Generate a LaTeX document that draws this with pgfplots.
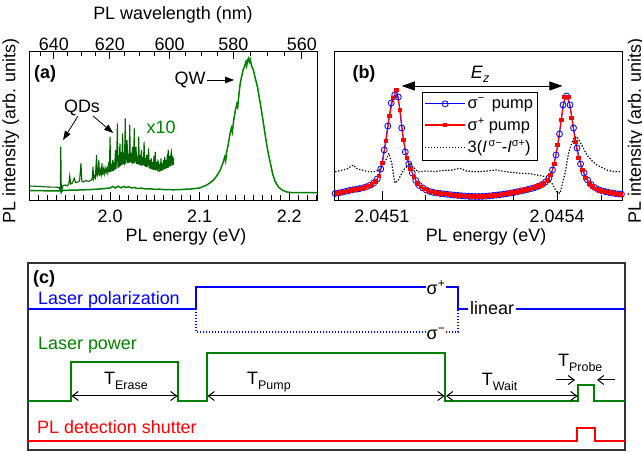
\documentclass[border=0pt]{standalone}
\usepackage{fontspec}
\setmainfont{Liberation Sans}
\usepackage{pgfplots}
\pgfplotsset{compat=1.18}
\usetikzlibrary{arrows.meta}
\definecolor{pgreen}{RGB}{0,128,0}
\definecolor{dgreen}{RGB}{0,98,0}
\definecolor{pblue}{RGB}{0,0,255}
\definecolor{pred}{RGB}{255,0,0}
\newcommand{\F}{\fontsize{18}{21}\selectfont}
\newcommand{\Sub}[1]{\raisebox{-5bp}{\fontsize{12.5}{14}\selectfont #1}}
\newcommand{\Sup}[1]{\raisebox{7bp}{\fontsize{12}{14}\selectfont #1}}
\newcommand{\LSup}[1]{\raisebox{6.5bp}{\fontsize{11}{13}\selectfont #1}}

\begin{document}
\begin{tikzpicture}[x=1bp,y=1bp]
\useasboundingbox (0,0) rectangle (642,452);
\pgfplotsset{every axis/.append style={font=\F, tick label style={font=\F},
  axis line style={line width=0.8bp}, tick style={line width=0.8bp, black}}}

% ---------------- panel (a) ----------------
\begin{axis}[at={(29bp,252bp)}, anchor=south west, scale only axis, width=288bp, height=149bp,
  xmin=1.9095, xmax=2.231, ymin=0, ymax=149,
  xtick={2.0,2.1,2.2}, xticklabels={2.0,2.1,2.2},
  minor xtick={1.92,1.93,1.94,1.95,1.96,1.97,1.98,1.99,2.01,2.02,2.03,2.04,2.05,2.06,2.07,2.08,2.09,2.11,2.12,2.13,2.14,2.15,2.16,2.17,2.18,2.19,2.21,2.22,2.23},
  xtick pos=left, ytick=\empty, tick align=inside,
  major tick length=8bp, minor tick length=5bp,
  xticklabel style={yshift=-6bp},
  xlabel={PL energy (eV)}, ylabel={PL intensity (arb. units)},
  every axis x label/.style={at={(axis description cs:0.545,-0.248)}, anchor=center},
  every axis y label/.style={at={(axis description cs:-0.063,0.463)}, rotate=90, anchor=center},
]
\addplot[pgreen, line width=1.5bp] coordinates {
(1.9100,9.5) (1.9200,9.3) (1.9300,9.2) (1.9400,9.2) (1.9440,9.0) (1.9450,11.5) (1.9455,7.5) (1.9470,9.5)
(1.9550,9.8) (1.9650,10.0) (1.9750,10.3) (1.9850,10.8) (1.9950,11.5) (2.0000,12.0) (2.0030,13.5)
(2.0060,12.0) (2.0090,13.8) (2.0120,12.2) (2.0150,13.5) (2.0180,12.5) (2.0210,13.2) (2.0240,12.0)
(2.0270,12.6) (2.0300,11.5) (2.0350,11.8) (2.0400,11.0) (2.0450,11.2) (2.0500,10.6) (2.0550,10.8)
(2.0600,10.4) (2.0650,10.5) (2.0700,10.2) (2.0750,10.3) (2.0800,10.5) (2.0850,10.8) (2.0900,11.0)
(2.0950,11.5) (2.1000,12.0) (2.1040,13.5) (2.1080,15.0) (2.1120,17.5) (2.1155,20.0) (2.1190,24.0)
(2.1230,30.0) (2.1260,37.0) (2.1280,43.0) (2.1290,39.0) (2.1300,47.0) (2.1320,56.0) (2.1340,66.7)
(2.1355,72.0) (2.1365,68.0) (2.1380,80.0) (2.1400,90.0) (2.1415,96.0) (2.1425,93.0) (2.1440,107.0)
(2.1453,116.7) (2.1470,124.0) (2.1485,130.0) (2.1500,133.3) (2.1515,138.0) (2.1525,134.0)
(2.1535,140.0) (2.1545,141.7) (2.1555,138.0) (2.1565,140.5) (2.1580,134.0) (2.1600,130.0)
(2.1620,122.0) (2.1645,113.3) (2.1670,100.0) (2.1695,86.7) (2.1720,72.0) (2.1740,60.0)
(2.1765,47.0) (2.1790,36.7) (2.1815,26.0) (2.1844,18.3) (2.1880,13.0) (2.1920,10.0) (2.1960,8.3)
(2.2010,7.5) (2.2100,7.3) (2.2200,7.3) (2.2310,7.3)};
\addplot[dgreen, line width=1.1bp] coordinates {
(1.9100,14.0) (1.9150,13.8) (1.9200,13.6) (1.9250,13.3) (1.9300,13.0) (1.9350,12.9) (1.9400,12.8)
(1.9430,12.5) (1.9445,10.0) (1.9450,53.3) (1.9455,12.0) (1.9465,10.5) (1.9475,14.5) (1.9500,15.0)
(1.9520,14.0) (1.9540,16.0) (1.9550,24.0) (1.9560,16.0) (1.9580,17.0) (1.9600,21.7) (1.9615,17.5)
(1.9640,18.0) (1.9660,19.0) (1.9675,36.7) (1.9685,18.5) (1.9700,18.0) (1.9730,19.5) (1.9760,18.5)
(1.9790,20) (1.9800,21) (1.9810,33) (1.9815,21) (1.9825,24) (1.9835,22) (1.9850,45) (1.9855,23)
(1.9865,28) (1.9875,40) (1.9880,24) (1.9890,30) (1.9900,25) (1.9910,36.7) (1.9915,25) (1.9925,31)
(1.9935,26) (1.9945,32) (1.9955,27) (1.9965,31.7) (1.9975,27) (1.9985,38) (1.9992,28) (2.0000,63.3)
(2.0006,28) (2.0014,36) (2.0020,29) (2.0030,40) (2.0036,29) (2.0044,38) (2.0050,30) (2.0060,50)
(2.0066,31) (2.0074,42) (2.0082,76.7) (2.0088,32) (2.0096,45) (2.0102,33) (2.0110,56.7) (2.0116,34)
(2.0124,48) (2.0130,35) (2.0140,66.7) (2.0146,36) (2.0154,47) (2.0160,35) (2.0170,81.7) (2.0176,36)
(2.0184,50) (2.0190,60) (2.0196,37) (2.0204,46) (2.0212,37) (2.0220,75) (2.0226,38) (2.0234,47)
(2.0242,37) (2.0250,53) (2.0256,36) (2.0264,45) (2.0270,71.7) (2.0276,37) (2.0284,46) (2.0290,53)
(2.0296,36) (2.0304,44) (2.0312,36) (2.0320,63.3) (2.0326,35) (2.0334,45) (2.0342,35) (2.0350,50)
(2.0356,34) (2.0364,43) (2.0372,35) (2.0380,58.3) (2.0386,34) (2.0394,42) (2.0402,33) (2.0410,45)
(2.0416,33) (2.0424,41) (2.0430,51.7) (2.0436,32) (2.0444,40) (2.0452,31) (2.0460,41.7) (2.0466,31)
(2.0474,38) (2.0482,30) (2.0490,44) (2.0496,30) (2.0504,48) (2.0510,30) (2.0518,38) (2.0526,29)
(2.0534,39) (2.0540,38) (2.0546,28) (2.0554,36) (2.0562,29) (2.0568,41.7) (2.0574,29) (2.0582,37)
(2.0590,30) (2.0598,40) (2.0604,31) (2.0610,43) (2.0616,31) (2.0624,40) (2.0632,32) (2.0640,46)
(2.0646,32) (2.0650,50) (2.0656,33) (2.0664,44) (2.0672,34) (2.0680,46) (2.0685,48) (2.0690,34)
(2.0698,44) (2.0704,35) (2.0710,42)};
\node at (axis cs:1.9274,126.5) {\textbf{(a)}};
\node at (axis cs:2.0894,120) {QW};
\draw[-{Triangle[length=9bp,width=6.5bp]}, line width=0.8bp] (axis cs:2.1084,120) -- (axis cs:2.1385,120);
\node at (axis cs:1.9687,92) {QDs};
\draw[-{Triangle[length=9bp,width=6.5bp]}, line width=0.8bp] (axis cs:1.9642,84) -- (axis cs:1.9475,60);
\draw[-{Triangle[length=9bp,width=6.5bp]}, line width=0.8bp] (axis cs:1.9810,84) -- (axis cs:2.0034,67);
\node[text=pgreen] at (axis cs:2.057,73) {x10};
\end{axis}

% top wavelength axis of (a)
\begin{axis}[at={(29bp,252bp)}, anchor=south west, scale only axis, width=288bp, height=149bp,
  xmin=1.9095, xmax=2.231, ymin=0, ymax=149,
  axis x line*=top, axis y line=none, tick align=inside,
  xtick={1.93725,1.99974,2.06640,2.13766,2.21400}, xticklabels={640,620,600,580,560},
  minor xtick={1.92223,1.95250,1.96800,1.98374,2.01600,2.03252,2.04933,2.08377,2.10142,2.11938,2.15625,2.17516,2.19441},
  major tick length=8bp, minor tick length=5bp,
  xticklabel style={yshift=-3bp},
  xlabel={PL wavelength (nm)},
  every axis x label/.style={at={(axis description cs:0.5,1.242)}, anchor=center},
]
\addplot[draw=none] coordinates {(2.0,10)};
\end{axis}

% ---------------- panel (b) ----------------
\begin{axis}[at={(334bp,252bp)}, anchor=south west, scale only axis, width=288bp, height=149bp,
  xmin=0.18, xmax=5.11, ymin=0, ymax=149,
  xtick={1,4}, xticklabels={2.0451,2.0454},
  minor xtick={0.25,1.75,2.5,3.25,4.75},
  xtick pos=left, ytick=\empty, tick align=inside,
  major tick length=9bp, minor tick length=5bp,
  xticklabel style={yshift=-6bp},
  xlabel={PL energy (eV)}, ylabel={PL intensity (arb. units)},
  every axis x label/.style={at={(axis description cs:0.528,-0.248)}, anchor=center},
  every axis y label/.style={at={(axis description cs:1.049,0.463)}, rotate=90, anchor=center},
  legend style={at={(axis description cs:0.306,0.725)}, anchor=north west,
    font=\fontsize{16.5}{19}\selectfont, draw=black, line width=0.8bp,
    row sep=4bp, inner ysep=3.5bp, inner xsep=2bp},
  legend cell align=left,
  legend image code/.code={\draw[mark repeat=2,mark phase=2,#1] plot coordinates {(0bp,0bp) (20bp,0bp) (40bp,0bp)};},
]
\addplot[pblue, line width=0.9bp, mark=o, mark size=3bp, mark options={line width=0.8bp}] coordinates {
(0.20,6.5) (0.26,7.0) (0.32,7.8) (0.38,8.6) (0.44,9.5) (0.50,10.2) (0.56,10.8) (0.62,11.4) (0.68,12.2)
(0.74,13.3) (0.80,14.8) (0.86,17.0) (0.92,21.0) (0.98,31.0) (1.04,50.0) (1.10,74.0) (1.16,97.0)
(1.22,105.0) (1.28,103.0) (1.34,72.0) (1.40,48.0) (1.46,36.0) (1.52,27.0) (1.58,19.5) (1.64,14.5)
(1.70,12.0) (1.76,10.0) (1.82,8.5) (1.88,7.6) (1.94,7.0) (2.00,6.5) (2.06,6.1) (2.12,5.7) (2.18,5.3)
(2.24,4.9) (2.30,4.6) (2.36,4.3) (2.42,4.0) (2.48,3.8) (2.54,3.6) (2.60,3.5) (2.66,3.5) (2.72,3.6)
(2.78,3.8) (2.84,4.1) (2.90,4.5) (2.96,4.9) (3.02,5.3) (3.08,5.8) (3.14,6.3) (3.20,6.9) (3.26,7.5)
(3.32,8.2) (3.38,9.0) (3.44,9.8) (3.50,10.6) (3.56,11.5) (3.62,12.5) (3.68,13.8) (3.74,15.5)
(3.80,18.0) (3.86,22.0) (3.92,30.0) (3.98,45.0) (4.04,66.0) (4.10,95.0) (4.16,104.0) (4.22,95.0)
(4.28,72.0) (4.34,52.0) (4.40,36.0) (4.46,27.0) (4.52,20.0) (4.58,15.5) (4.64,12.5) (4.70,10.5)
(4.76,9.3) (4.82,8.4) (4.88,7.6) (4.94,7.0) (5.00,6.4) (5.06,6.0) (5.10,5.8)};
\addlegendentry{σ\LSup{−}\hspace{3bp} pump}
\addplot[pred, line width=1.1bp, mark=square*, mark size=1.8bp] coordinates {
(0.23,6.3) (0.29,7.2) (0.35,8.0) (0.41,8.9) (0.47,9.8) (0.53,10.4) (0.59,11.0) (0.65,11.8) (0.71,12.7)
(0.77,14.0) (0.83,15.8) (0.89,18.5) (0.95,24.0) (1.01,37.0) (1.07,59.0) (1.13,84.0) (1.19,102.0)
(1.25,110.0) (1.31,90.0) (1.37,60.0) (1.43,42.0) (1.49,31.0) (1.55,23.0) (1.61,16.5) (1.67,13.0)
(1.73,11.0) (1.79,9.2) (1.85,8.0) (1.91,7.3) (1.97,6.7) (2.03,6.3) (2.09,5.9) (2.15,5.5) (2.21,5.1)
(2.27,4.7) (2.33,4.4) (2.39,4.1) (2.45,3.9) (2.51,3.7) (2.57,3.5) (2.63,3.5) (2.69,3.5) (2.75,3.7)
(2.81,3.9) (2.87,4.3) (2.93,4.7) (2.99,5.1) (3.05,5.5) (3.11,6.0) (3.17,6.6) (3.23,7.2) (3.29,7.8)
(3.35,8.6) (3.41,9.4) (3.47,10.2) (3.53,11.0) (3.59,12.0) (3.65,13.2) (3.71,14.6) (3.77,16.8)
(3.83,19.8) (3.89,25.0) (3.95,36.0) (4.01,55.0) (4.07,80.0) (4.13,103.0) (4.19,103.0) (4.25,82.0)
(4.31,58.0) (4.37,42.0) (4.43,30.0) (4.49,22.0) (4.55,16.8) (4.61,13.2) (4.67,11.0) (4.73,9.7)
(4.79,8.7) (4.85,7.9) (4.91,7.2) (4.97,6.6) (5.03,6.1) (5.09,5.8)};
\addlegendentry{σ\LSup{+} pump}
\addplot[black, line width=1.2bp, dash pattern=on 1.3bp off 1.7bp] coordinates {
(0.20,28.3) (0.30,29.5) (0.40,31) (0.51,35) (0.58,31) (0.66,30) (0.75,28.5) (0.85,28) (0.96,30)
(1.05,38) (1.12,46.7) (1.17,36) (1.22,17) (1.28,20) (1.37,30) (1.48,36.7) (1.53,33.3) (1.62,28)
(1.75,29) (1.90,28.5) (2.05,29.5) (2.20,30) (2.33,31.7) (2.45,29) (2.55,28.5) (2.67,28.3) (2.80,29)
(2.95,30) (3.10,28.5) (3.25,27.5) (3.36,26.7) (3.50,26.5) (3.66,25) (3.82,23) (3.91,16.7) (3.99,8.3)
(4.05,6.7) (4.14,28.3) (4.20,48.3) (4.28,61.7) (4.34,63.3) (4.42,55) (4.51,45) (4.60,39) (4.68,35)
(4.85,30) (4.95,28.5) (5.10,28.3)};
\addlegendentry{3(\textit{I}\LSup{\,σ−}-\textit{I}\LSup{σ+})}
\node at (axis cs:0.693,126.5) {\textbf{(b)}};
\draw[{Triangle[length=13bp,width=9bp]}-{Triangle[length=13bp,width=9bp]}, line width=0.8bp] (axis cs:1.34,114) -- (axis cs:4.09,114);
\node[anchor=base west, inner sep=0pt] at (axis cs:2.52,121.7) {\textit{E}\raisebox{-4.5bp}{\fontsize{12.5}{14}\selectfont\textit{z}}};
\end{axis}

% ---------------- panel (c) ----------------
\begin{axis}[at={(28bp,2bp)}, anchor=south west, scale only axis, width=597bp, height=187bp,
  xmin=28, xmax=625, ymin=263, ymax=450, y dir=reverse,
  xtick=\empty, ytick=\empty, axis line style={line width=1.2bp, black!80}, clip=false]
\addplot[pblue, line width=1.6bp] coordinates {(28,309) (196,309) (196,287) (458,287) (458,309) (625,309)};
\addplot[pblue, line width=1.4bp, dash pattern=on 1.2bp off 1.8bp] coordinates {(196,309) (196,332) (458,332) (458,309)};
\addplot[pgreen, line width=1.6bp] coordinates {(28,401) (71,401) (71,362) (178,362) (178,401) (207,401) (207,353) (445,353) (445,401) (578,401) (578,385) (594,385) (594,401) (625,401)};
\addplot[pred, line width=1.6bp] coordinates {(28,441) (577,441) (577,428) (595,428) (595,441) (625,441)};
\node[anchor=base west, inner sep=0pt] at (axis cs:33,284) {\textbf{(c)}};
\node[anchor=base west, inner sep=0pt, text=pblue] at (axis cs:38,304.5) {Laser polarization};
\node[anchor=base west, inner sep=0pt, text=pgreen] at (axis cs:38,350) {Laser power};
\node[anchor=base west, inner sep=0pt, text=pred] at (axis cs:37,433.5) {PL detection shutter};
\node[anchor=base west, fill=white, inner sep=1bp] at (axis cs:425.5,294.3) {σ\Sup{+}};
\node[anchor=base west, fill=white, inner sep=1bp] at (axis cs:425.5,340) {σ\Sup{−}};
\node[anchor=base west, fill=white, inner xsep=2bp, inner ysep=1bp] at (axis cs:468,315) {linear};
\node[anchor=base west, inner sep=0pt] at (axis cs:104,385) {T\Sub{Erase}};
\node[anchor=base west, inner sep=0pt] at (axis cs:247,385) {T\Sub{Pump}};
\node[anchor=base west, inner sep=0pt] at (axis cs:481.7,385.5) {T\Sub{Wait}};
\node[anchor=base west, inner sep=0pt] at (axis cs:558,366.5) {T\Sub{Probe}};
\draw[{Straight Barb[length=6bp,width=9bp]}-{Straight Barb[length=6bp,width=9bp]}, line width=1bp] (axis cs:71.5,396) -- (axis cs:177.5,396);
\draw[{Straight Barb[length=6bp,width=9bp]}-{Straight Barb[length=6bp,width=9bp]}, line width=1bp] (axis cs:207.5,396) -- (axis cs:444.5,396);
\draw[{Straight Barb[length=6bp,width=9bp]}-{Straight Barb[length=6bp,width=9bp]}, line width=1bp] (axis cs:446,396) -- (axis cs:577.5,396);
\draw[-{Straight Barb[length=6bp,width=9bp]}, line width=1bp] (axis cs:556,380) -- (axis cs:575,380);
\draw[-{Straight Barb[length=6bp,width=9bp]}, line width=1bp] (axis cs:615,380) -- (axis cs:597,380);
\end{axis}
\end{tikzpicture}
\end{document}
